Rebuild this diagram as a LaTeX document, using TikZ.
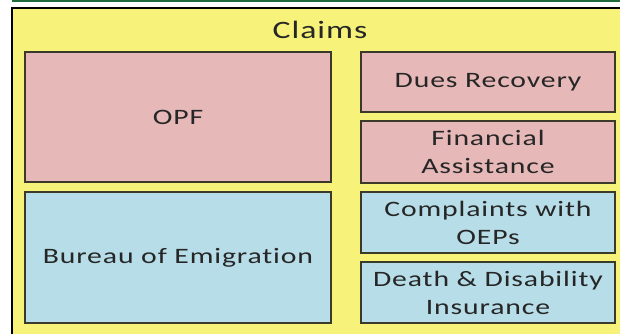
\documentclass[tikz,border=0pt]{standalone}
\usepackage{fontspec}
\setmainfont{Carlito}[FakeStretch=1.35,LetterSpace=4,Ligatures=NoCommon]
\usepackage{tikz}

\definecolor{claimsyellow}{HTML}{F7F27A}
\definecolor{claimspink}{HTML}{E6B9B8}
\definecolor{claimsblue}{HTML}{B7DDE8}
\definecolor{claimsline}{HTML}{3B3A2A}
\definecolor{claimsgreen}{HTML}{1F6B3E}
\definecolor{claimstext}{HTML}{262626}

\tikzset{
  cbox/.style={draw=claimsline, line width=1.1pt, align=center, text=claimstext,
    font=\fontsize{22}{28}\selectfont, inner sep=0pt},
  pinkbox/.style={cbox, fill=claimspink},
  bluebox/.style={cbox, fill=claimsblue}
}

\begin{document}
\begin{tikzpicture}[x=1pt,y=1pt]
\useasboundingbox (0,0) rectangle (620,334);
\clip (0,0) rectangle (620,334);
% outer frame
\fill[claimsgreen] (12,332) rectangle (630,334);
\draw[fill=claimsyellow, draw=black, line width=1.2pt] (12,326) rectangle (640,-10);
\node[text=claimstext, font=\fontsize{25}{28}\selectfont] (claims) at (320,304) {Claims};
% left column
\node[pinkbox, minimum width=306, minimum height=130] (opf) at (178,217) {OPF};
\node[bluebox, minimum width=306, minimum height=131] (bureau) at (178,76.5) {Bureau of Emigration};
% right column
\node[pinkbox, minimum width=254, minimum height=60] (dues) at (488,252) {Dues Recovery};
\node[pinkbox, minimum width=254, minimum height=62] (finance) at (488,182) {Financial\\Assistance};
\node[bluebox, minimum width=254, minimum height=61] (complaints) at (488,111.5) {Complaints with\\OEPs};
\node[bluebox, minimum width=254, minimum height=61] (death) at (488,41.5) {Death \& Disability\\Insurance};
\end{tikzpicture}
\end{document}
